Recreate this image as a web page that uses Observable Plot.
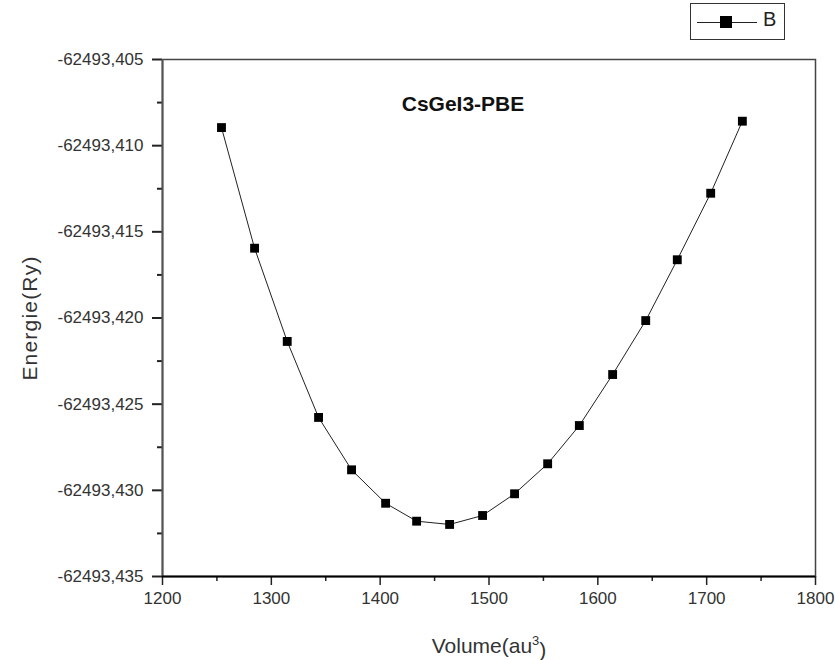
<!DOCTYPE html>
<html>
<head>
<meta charset="utf-8">
<script src="https://cdn.jsdelivr.net/npm/d3@7"></script>
<script src="https://cdn.jsdelivr.net/npm/@observablehq/plot@0.6"></script>
<style>
  html, body { margin: 0; padding: 0; background: #fff; }
  #wrap { position: relative; width: 835px; height: 660px; font-family: "Liberation Sans", Arial, sans-serif; }
  #legend { position: absolute; left: 690px; top: 3px; width: 95px; height: 37px; border: 1.5px solid #333; box-sizing: border-box; background: #fff; }
  #legend .ln { position: absolute; left: 6px; top: 18px; width: 60px; height: 1px; background: #222; }
  #legend .sq { position: absolute; left: 29px; top: 12px; width: 12px; height: 12px; background: #000; }
  #legend .lb { position: absolute; left: 72px; top: 4px; font-size: 20px; color: #222; }
</style>
</head>
<body>
<div id="wrap">
  <div id="chart"></div>
  <div id="legend"><div class="ln"></div><div class="sq"></div><div class="lb" id="lb"></div></div>
</div>
<script>
const volume = [1254.2, 1284.6, 1314.6, 1343.4, 1373.7, 1405.0, 1433.5, 1463.8, 1494.1, 1523.5, 1553.9, 1583.0, 1613.6, 1644.0, 1673.0, 1703.7, 1732.8];
const energy = [-62493.40895, -62493.41595, -62493.42136, -62493.42577, -62493.42881, -62493.43075, -62493.43179, -62493.43198, -62493.43146, -62493.43020, -62493.42846, -62493.42624, -62493.42328, -62493.42015, -62493.41662, -62493.41276, -62493.40858];
const xTicks = [1200, 1300, 1400, 1500, 1600, 1700, 1800];
const xMinor = [1250, 1350, 1450, 1550, 1650, 1750];
const yTicks = [-62493.435, -62493.430, -62493.425, -62493.420, -62493.415, -62493.410, -62493.405];
const yMinor = [-62493.4325, -62493.4275, -62493.4225, -62493.4175, -62493.4125, -62493.4075];
const seriesName = "B";
const title = "CsGeI3-PBE";
const xLabelBase = "Volume(au";
const xLabelSup = "3";
const yLabel = "Energie(Ry)";

document.getElementById("lb").textContent = seriesName;
const data = volume.map((v, i) => ({v, e: energy[i]}));
const fmtY = d => d3.format(".3f")(d).replace("\u2212", "-").replace(".", ",");

const chart = Plot.plot({
  width: 835,
  height: 660,
  marginLeft: 162,
  marginRight: 20,
  marginTop: 59,
  marginBottom: 84,
  style: {fontFamily: "'Liberation Sans', Arial, sans-serif", fontSize: "17px", color: "#333", background: "#fff"},
  x: {domain: [1200, 1800]},
  y: {domain: [-62493.435, -62493.405]},
  marks: [
    Plot.frame({stroke: "#444", strokeWidth: 1.5}),
    Plot.axisX({ticks: xTicks, tickSize: 9, tickPadding: 6, tickFormat: d => String(d), stroke: "#222", strokeWidth: 1.5,
      label: xLabelBase + xLabelSup + ")", labelArrow: "none", labelAnchor: "center", labelOffset: 76, fontSize: 17}),
    Plot.axisX({ticks: xMinor, tickSize: 5, text: null, stroke: "#222", strokeWidth: 1.5, label: null}),
    Plot.axisY({ticks: yTicks, tickSize: 10, tickPadding: 9, tickFormat: fmtY, stroke: "#222", strokeWidth: 2,
      label: yLabel, labelArrow: "none", labelAnchor: "center", labelOffset: 140, fontSize: 17}),
    Plot.axisY({ticks: yMinor, tickSize: 5, text: null, stroke: "#222", strokeWidth: 2, label: null}),
    Plot.ruleX([1200], {stroke: "#555", strokeWidth: 2}),
    Plot.ruleY([-62493.435], {stroke: "#000", strokeWidth: 2.2}),
    Plot.line(data, {x: "v", y: "e", stroke: "#222", strokeWidth: 1}),
    Plot.dot(data, {x: "v", y: "e", symbol: "square", r: 5, fill: "#000", stroke: "none"}),
    Plot.text([title], {frameAnchor: "top", dx: -26, dy: 37, text: d => d, fontWeight: "bold", fontSize: 21, fill: "#111"})
  ]
});
document.getElementById("chart").appendChild(chart);

const xl = chart.querySelector("[aria-label='x-axis label'] text");
if (xl) {
  xl.style.fontSize = "21px"; xl.style.fill = "#333";
  xl.textContent = "";
  const t1 = document.createElementNS("http://www.w3.org/2000/svg", "tspan");
  t1.textContent = xLabelBase;
  const t2 = document.createElementNS("http://www.w3.org/2000/svg", "tspan");
  t2.textContent = xLabelSup; t2.setAttribute("dy", "-0.55em"); t2.setAttribute("font-size", "13px");
  const t3 = document.createElementNS("http://www.w3.org/2000/svg", "tspan");
  t3.textContent = ")"; t3.setAttribute("dy", "0.55em");
  xl.append(t1, t2, t3);
}
const yl = chart.querySelector("[aria-label='y-axis label'] text");
if (yl) { yl.style.fontSize = "21px"; yl.style.fill = "#333"; yl.style.letterSpacing = "1.2px"; }
</script>
</body>
</html>
